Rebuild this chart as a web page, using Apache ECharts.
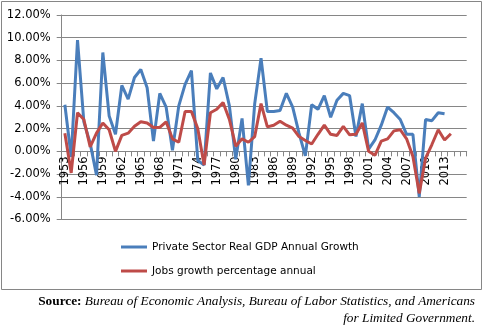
<!DOCTYPE html>
<html><head><meta charset="utf-8">
<script src="https://cdn.jsdelivr.net/npm/echarts@6/dist/echarts.min.js"></script>
<style>html,body{margin:0;padding:0;background:#fff}#c{width:483px;height:334px}</style>
</head><body><div id="c"></div>
<script>
const years = [];
for (let y = 1953; y <= 2016; y++) years.push(String(y));
const gdpGrowth = [4.1,-0.5,9.8,2.6,0.7,-2.1,8.7,3.1,1.5,5.8,4.6,6.5,7.2,5.6,0.9,5.1,3.9,0.1,4.0,5.9,7.1,-0.8,-1.2,6.9,5.5,6.5,4.0,-0.7,2.9,-3.0,4.2,8.2,3.5,3.5,3.6,5.1,3.9,1.6,-0.4,4.1,3.7,4.9,3.0,4.5,5.1,4.9,1.3,4.2,0.2,1.0,2.3,3.9,3.4,2.8,1.5,1.5,-4.0,2.8,2.7,3.4,3.3];
const jobsGrowth = [1.6,-1.9,3.4,2.8,0.4,1.6,2.5,1.9,0.0,1.4,1.6,2.2,2.6,2.5,2.1,2.1,2.6,1.1,0.8,3.5,3.5,2.0,-1.2,3.4,3.7,4.3,2.8,0.45,1.1,0.8,1.3,4.2,2.15,2.3,2.65,2.3,2.05,1.3,0.95,0.65,1.5,2.3,1.5,1.4,2.2,1.45,1.5,2.5,0.0,-0.35,0.9,1.1,1.8,1.9,1.1,-0.45,-3.7,-0.6,0.6,1.9,1.0,1.55];
const yTicks = {min: -6, max: 12, step: 2};
const seriesNames = ['Private Sector Real GDP Annual Growth', 'Jobs growth percentage annual'];
const sourceLine1 = 'Bureau of Economic Analysis, Bureau of Labor Statistics, and Americans';
const sourceLine2 = 'for Limited Government.';

const chart = echarts.init(document.getElementById('c'), null, {renderer: 'canvas'});
const axisFont = 'DejaVu Sans';
const gridTop = 15, gridBottom = 114.5, gridLeft = 61.7, gridRight = 16.3;
const plotH = 334 - gridTop - gridBottom;
// y pixel of the zero line (for the label-carrying overlay grid)
const zeroFromBottom = gridBottom + plotH * (0 - yTicks.min) / (yTicks.max - yTicks.min);
chart.setOption({
  animation: false,
  backgroundColor: '#fff',
  grid: [
    {left: gridLeft, right: gridRight, top: gridTop, bottom: gridBottom, containLabel: false},
    {left: gridLeft, right: gridRight, top: gridTop, bottom: zeroFromBottom, containLabel: false}
  ],
  xAxis: [{
    gridIndex: 0, type: 'category', data: years, boundaryGap: true,
    axisLine: {show: false}, axisTick: {show: false}, axisLabel: {show: false},
    splitLine: {show: false}
  }, {
    gridIndex: 1, type: 'category', data: years, boundaryGap: true, position: 'bottom',
    axisLine: {show: true, onZero: false, lineStyle: {color: '#868686', width: 1}},
    axisTick: {show: true, interval: 0, length: 5, lineStyle: {color: '#868686'}},
    axisLabel: {
      rotate: 90, margin: 5, color: '#000', fontFamily: axisFont, fontSize: 11.5,
      interval: (i) => i % 3 === 0 && i < 61
    },
    splitLine: {show: false}
  }],
  yAxis: [{
    gridIndex: 0, type: 'value', min: yTicks.min, max: yTicks.max, interval: yTicks.step,
    axisLine: {show: true, lineStyle: {color: '#868686', width: 1}},
    axisTick: {show: true, length: 5, lineStyle: {color: '#868686'}},
    axisLabel: {margin: 11, color: '#000', fontFamily: axisFont, fontSize: 11.5,
      formatter: (v) => v.toFixed(2) + '%'},
    splitLine: {show: true, lineStyle: {color: '#868686', width: 1}}
  }, {
    gridIndex: 1, type: 'value', min: 0, max: yTicks.max, show: false
  }],
  legend: {
    orient: 'vertical', left: 121, top: 240, padding: 0, itemWidth: 26, itemHeight: 3, itemGap: 10,
    icon: 'rect',
    textStyle: {fontFamily: axisFont, fontSize: 10.5, color: '#000', lineHeight: 14},
    data: seriesNames
  },
  series: [
    {name: seriesNames[0], type: 'line', xAxisIndex: 0, yAxisIndex: 0, data: gdpGrowth, symbol: 'none', showSymbol: false,
     lineStyle: {color: '#4a7ebb', width: 3}, itemStyle: {color: '#4a7ebb'}, z: 2},
    {name: seriesNames[1], type: 'line', xAxisIndex: 0, yAxisIndex: 0, data: jobsGrowth, symbol: 'none', showSymbol: false,
     lineStyle: {color: '#be4b48', width: 3}, itemStyle: {color: '#be4b48'}, z: 3}
  ],
  graphic: [
    {type: 'rect', shape: {x: 1.5, y: 1.5, width: 480, height: 288}, style: {fill: 'none', stroke: '#868686', lineWidth: 1}, z: -1, silent: true},
    {type: 'text', right: 8, top: 295, style: {
      text: '{b|Source:} {i|' + sourceLine1 + '}',
      rich: {b: {fontFamily: 'Liberation Serif', fontWeight: 'bold', fontSize: 13.3, fill: '#000'},
             i: {fontFamily: 'Liberation Serif', fontStyle: 'italic', fontSize: 13.3, fill: '#000'}}
    }},
    {type: 'text', right: 8, top: 312, style: {
      text: sourceLine2, font: 'italic 13.3px "Liberation Serif"', fill: '#000'
    }}
  ]
});
</script></body></html>
